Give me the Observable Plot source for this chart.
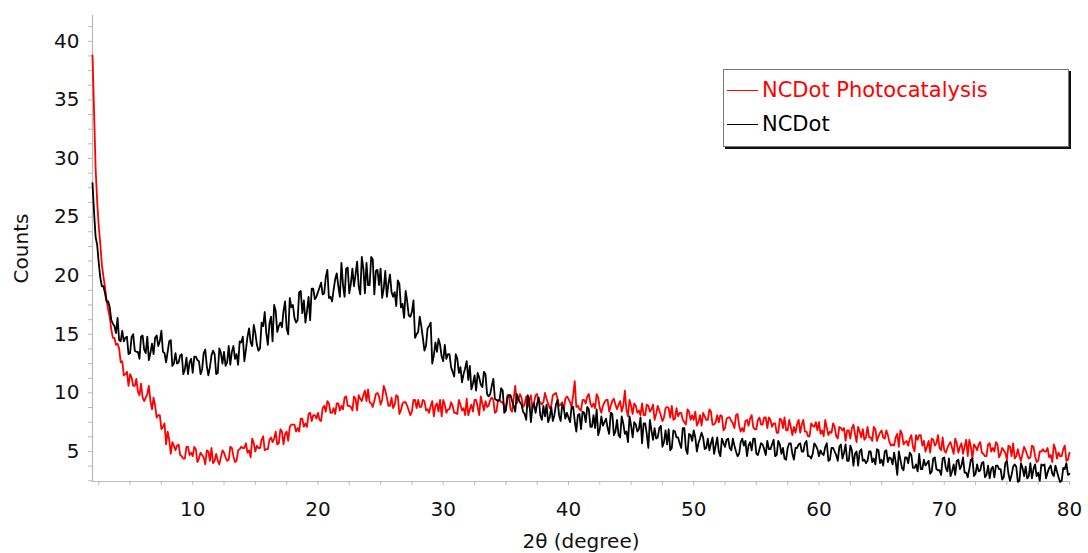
<!DOCTYPE html>
<html>
<head>
<meta charset="utf-8">
<script src="https://cdn.jsdelivr.net/npm/d3@7"></script>
<script src="https://cdn.jsdelivr.net/npm/@observablehq/plot@0.6"></script>
<style>
  html, body { margin: 0; padding: 0; background: #fff; }
  #wrap { position: relative; width: 1088px; height: 553px; font-family: "DejaVu Sans", Verdana, sans-serif; }
  #legend { position: absolute; left: 723px; top: 69px; width: 346px; height: 78px; border: 1px solid #777; background: #fff; box-shadow: 2px 2px 0 #111; box-sizing: border-box; font-size: 21px; }
  .row { position: absolute; left: 3px; display: flex; align-items: center; white-space: nowrap; }
  .sw { width: 31px; height: 0; border-top: 1px solid; margin-right: 4px; }
</style>
</head>
<body>
<div id="wrap"></div>
<script>
// ---- data ----
const seriesNames = ["NCDot Photocatalysis", "NCDot"];
const seriesColors = ["#ff0000", "#000000"];
// readings on a 0.25° grid starting at 2°, and in-between readings at 2.125° + 0.25°·k
const angleStart = 2, angleStep = 0.25, halfStep = 0.125;

const countsPhotocatalysis = [
  38.8, 29.1, 24.2, 20.9, 19.0, 17.1, 15.4, 14.7,
  14.2, 12.6, 11.5, 11.8, 11.6, 10.6, 11.2, 9.8,
  9.6, 9.6, 10.6, 8.6, 8.9, 8.1, 6.9, 7.4,
  6.7, 4.8, 5.5, 5.5, 4.7, 4.4, 5.4, 4.7,
  4.6, 5.2, 4.4, 4.7, 3.9, 5.0, 5.3, 4.2,
  4.2, 4.5, 4.9, 4.2, 5.4, 4.6, 4.2, 5.2,
  5.3, 5.7, 5.1, 6.1, 5.0, 5.3, 6.0, 5.1,
  5.2, 6.2, 6.1, 5.6, 6.9, 5.6, 6.7, 7.1,
  7.3, 6.7, 6.7, 7.8, 7.4, 8.2, 7.6, 8.1,
  8.3, 7.6, 8.9, 9.3, 8.3, 8.7, 9.1, 8.5,
  8.6, 9.7, 8.9, 8.5, 9.5, 9.8, 9.3, 10.2,
  10.3, 9.1, 9.3, 10.0, 9.0, 10.6, 9.6, 8.9,
  8.7, 9.8, 8.2, 9.1, 9.2, 8.5, 8.4, 9.4,
  9.4, 8.8, 9.3, 8.6, 8.9, 8.0, 9.1, 9.4,
  9.4, 8.3, 8.6, 8.9, 8.3, 9.4, 8.5, 8.1,
  8.1, 9.0, 9.4, 8.8, 9.7, 8.5, 8.8, 9.4,
  9.4, 8.4, 9.4, 9.2, 8.6, 9.8, 8.4, 10.6,
  9.4, 9.6, 9.0, 8.8, 9.8, 9.2, 9.9, 9.2,
  9.2, 9.5, 8.7, 9.8, 10.0, 8.9, 9.2, 9.5,
  9.5, 8.8, 11.0, 8.9, 8.5, 9.4, 9.7, 9.1,
  9.1, 9.9, 8.7, 8.9, 9.4, 8.4, 9.3, 9.0,
  9.0, 8.4, 10.2, 8.0, 8.9, 9.1, 8.3, 8.1,
  8.1, 9.0, 8.4, 9.0, 8.2, 8.5, 7.6, 8.7,
  8.7, 8.9, 7.8, 8.0, 8.3, 7.5, 8.6, 7.7,
  7.7, 7.2, 8.1, 8.3, 7.7, 8.6, 7.3, 7.5,
  7.5, 8.0, 7.0, 7.9, 7.6, 7.0, 8.2, 6.7,
  6.7, 7.7, 7.8, 7.1, 6.9, 7.9, 7.3, 7.9,
  7.9, 7.1, 7.4, 6.6, 7.7, 7.9, 6.8, 7.1,
  7.1, 7.3, 6.6, 7.7, 6.7, 6.3, 7.2, 7.5,
  7.5, 6.8, 7.7, 6.4, 6.6, 7.1, 6.1, 7.0,
  7.0, 6.8, 6.1, 7.3, 5.8, 6.7, 6.9, 6.2,
  6.2, 5.9, 6.9, 6.3, 6.8, 6.1, 6.4, 5.5,
  5.5, 6.5, 6.8, 5.6, 5.9, 6.1, 5.4, 6.4,
  6.4, 5.5, 5.0, 5.9, 6.1, 5.5, 6.4, 5.1,
  5.1, 5.3, 5.8, 4.8, 5.7, 5.4, 4.8, 6.0,
  6.0, 4.4, 5.4, 5.6, 4.9, 4.6, 5.6, 5.0,
  5.0, 5.6, 4.8, 5.1, 4.3, 5.4, 5.7, 4.6,
  4.6, 4.8, 5.1, 4.4, 5.5, 4.6, 4.2, 5.0,
  5.0, 5.3, 4.7, 5.6, 4.4, 4.6, 5.2, 4.2,
  4.9
];
const countsPhotocatalysisMid = [
  34.0, 26.3, 22.7, 19.9, 17.9, 16.5, 14.7, 14.1,
  13.8, 12.7, 11.6, 10.6, 11.3, 10.6, 10.1, 10.8,
  9.3, 9.9, 9.3, 9.6, 7.9, 8.1, 7.1, 5.6,
  6.0, 5.8, 5.1, 5.6, 4.6, 4.4, 5.4, 4.9,
  5.4, 4.1, 4.9, 4.5, 5.1, 4.2, 4.0, 4.8,
  3.9, 5.1, 4.5, 4.3, 5.3, 4.1, 5.1, 5.4,
  5.3, 4.9, 4.5, 5.7, 5.5, 5.3, 6.3, 5.2,
  6.0, 5.8, 6.7, 5.7, 6.7, 6.5, 5.9, 7.3,
  7.3, 7.0, 7.8, 7.1, 7.1, 8.3, 8.1, 7.8,
  7.7, 8.7, 8.4, 9.1, 8.3, 8.2, 9.1, 8.9,
  9.6, 8.9, 8.8, 9.7, 8.5, 9.5, 9.8, 9.3,
  9.2, 8.8, 9.9, 9.7, 9.4, 10.2, 8.9, 9.6,
  9.0, 9.7, 8.5, 9.2, 8.9, 8.1, 9.4, 8.7,
  8.8, 9.4, 8.5, 8.3, 9.3, 8.9, 8.4, 8.0,
  9.0, 8.6, 9.2, 8.3, 8.2, 9.0, 8.7, 9.5,
  8.6, 8.4, 9.4, 8.1, 9.1, 9.3, 8.9, 9.6,
  8.3, 9.4, 9.2, 8.9, 9.8, 8.6, 9.5, 9.1,
  9.9, 8.8, 9.7, 9.4, 8.6, 9.8, 9.2, 9.0,
  10.0, 9.1, 8.9, 9.9, 9.5, 9.0, 8.6, 9.7,
  9.2, 9.8, 8.8, 8.6, 9.4, 9.1, 9.9, 8.8,
  8.7, 9.6, 8.3, 9.2, 9.4, 8.9, 9.5, 8.6,
  9.3, 8.9, 8.6, 9.4, 8.2, 8.9, 8.5, 9.1,
  8.1, 8.9, 8.6, 7.7, 8.9, 8.1, 7.9, 8.8,
  7.9, 7.7, 8.7, 8.3, 7.7, 7.3, 8.4, 8.1,
  8.4, 7.5, 7.2, 8.0, 7.7, 8.4, 7.3, 8.1,
  8.1, 6.8, 7.8, 7.9, 7.4, 8.1, 7.2, 7.0,
  7.6, 7.2, 8.1, 6.9, 7.7, 7.3, 7.9, 7.0,
  7.7, 7.4, 6.6, 7.8, 7.0, 6.8, 7.7, 6.4,
  6.6, 7.7, 7.3, 6.7, 6.3, 7.4, 7.1, 6.8,
  6.5, 6.3, 7.0, 6.7, 7.4, 6.3, 7.1, 6.8,
  5.9, 6.8, 7.0, 6.5, 7.1, 6.2, 6.0, 7.1,
  6.2, 7.1, 5.9, 6.6, 6.2, 6.8, 5.8, 5.6,
  6.2, 5.4, 6.5, 5.8, 5.5, 6.4, 5.0, 6.0,
  6.4, 5.9, 5.4, 4.9, 6.0, 5.7, 5.3, 6.2,
  4.9, 5.6, 5.3, 6.1, 4.9, 5.7, 5.4, 4.6,
  5.4, 5.6, 5.1, 5.8, 4.8, 4.6, 5.7, 5.3,
  5.8, 4.5, 5.3, 4.9, 5.5, 4.6, 4.4, 5.2,
  4.2, 5.4, 4.7, 4.5, 5.4, 4.1, 5.0, 5.2,
  5.0, 4.5, 4.1, 5.2, 4.9, 4.6, 5.5, 4.3
];

const countsNCDot = [
  27.9, 23.3, 21.1, 19.1, 18.5, 17.8, 16.2, 15.7,
  16.4, 14.4, 14.4, 14.8, 13.4, 15.0, 13.5, 12.9,
  14.9, 13.4, 12.8, 14.2, 14.7, 14.0, 15.3, 13.4,
  13.5, 14.5, 12.5, 12.5, 13.2, 11.6, 13.0, 12.6,
  11.7, 13.1, 12.7, 12.0, 13.7, 11.5, 13.2, 13.3,
  11.7, 13.4, 13.5, 12.6, 12.4, 14.0, 13.3, 14.4,
  14.8, 13.7, 15.5, 14.0, 15.1, 13.6, 16.0, 16.9,
  14.1, 16.5, 17.5, 15.2, 16.0, 17.0, 15.5, 18.1,
  17.5, 16.0, 18.6, 16.8, 16.0, 18.2, 18.9, 18.0,
  18.6, 19.4, 18.5, 20.5, 18.2, 18.8, 20.2, 18.2,
  19.2, 20.6, 18.5, 20.6, 20.1, 19.1, 21.6, 18.5,
  19.2, 21.6, 18.4, 20.5, 20.6, 18.9, 18.2, 20.1,
  18.2, 17.4, 19.3, 17.6, 18.7, 16.6, 16.9, 14.7,
  15.2, 15.7, 13.6, 15.5, 16.0, 13.2, 13.5, 14.1,
  12.7, 12.9, 13.3, 11.8, 13.3, 11.7, 10.9, 12.1,
  11.1, 10.3, 11.5, 11.7, 10.7, 11.8, 9.9, 9.9,
  11.2, 9.4, 9.4, 10.2, 8.5, 9.8, 9.3, 8.4,
  9.5, 9.0, 8.2, 9.8, 7.5, 9.1, 9.1, 8.1,
  8.9, 9.0, 7.9, 7.6, 9.0, 8.1, 9.0, 7.8,
  7.9, 8.8, 7.6, 8.1, 6.9, 8.3, 8.8, 7.1,
  8.1, 8.6, 6.9, 7.2, 7.8, 6.5, 8.2, 6.7,
  6.4, 8.0, 6.5, 5.8, 7.2, 7.5, 6.7, 7.9,
  7.4, 6.5, 7.7, 6.0, 6.1, 7.0, 5.4, 6.8,
  6.9, 5.3, 6.7, 6.2, 5.3, 7.0, 4.8, 6.4,
  6.8, 5.0, 6.1, 6.2, 5.3, 5.1, 6.2, 5.5,
  5.0, 6.1, 5.4, 6.1, 5.1, 5.5, 4.6, 5.8,
  5.5, 4.6, 5.8, 6.1, 4.8, 5.2, 5.6, 4.7,
  5.2, 5.6, 4.6, 5.9, 4.8, 4.4, 5.3, 5.7,
  4.3, 5.3, 5.7, 5.0, 5.9, 4.6, 4.8, 5.5,
  4.6, 4.8, 5.4, 4.2, 5.3, 5.0, 4.2, 5.6,
  4.9, 4.2, 5.5, 3.8, 5.0, 5.0, 4.2, 4.0,
  5.0, 4.1, 3.9, 5.1, 4.3, 5.0, 4.1, 4.4,
  4.9, 3.0, 4.3, 3.4, 4.5, 4.9, 3.6, 3.9,
  4.8, 3.5, 3.8, 4.2, 3.3, 4.5, 3.4, 3.0,
  4.5, 3.3, 2.9, 3.9, 4.2, 3.5, 4.5, 3.2,
  3.5, 4.4, 3.1, 3.3, 4.0, 2.8, 3.8, 3.5,
  2.8, 3.8, 3.5, 2.8, 4.2, 2.5, 3.7, 3.7,
  2.5, 3.6, 3.7, 2.9, 2.7, 3.9, 3.2, 3.9,
  3.9, 3.2, 3.8, 2.9, 3.3, 2.4, 3.6, 4.0,
  3.1
];
const countsNCDotMid = [
  25.4, 22.6, 19.8, 19.1, 17.8, 17.3, 15.9, 15.1,
  14.5, 15.3, 14.7, 13.3, 14.8, 13.6, 13.5, 14.8,
  13.7, 14.8, 13.4, 13.3, 14.9, 14.4, 13.5, 12.6,
  14.4, 12.3, 13.4, 12.6, 13.3, 12.0, 11.6, 12.9,
  13.1, 12.8, 11.6, 13.4, 12.3, 12.2, 13.6, 11.6,
  13.8, 12.5, 12.3, 14.0, 13.5, 12.9, 12.4, 14.3,
  12.7, 14.8, 14.3, 15.8, 14.1, 13.8, 15.7, 15.1,
  15.9, 14.4, 17.0, 15.7, 15.6, 17.8, 15.0, 17.3,
  16.4, 16.2, 18.7, 17.9, 17.0, 16.2, 18.9, 18.2,
  19.0, 18.4, 19.9, 18.1, 17.8, 19.7, 19.1, 21.1,
  18.2, 20.7, 19.3, 19.1, 21.2, 18.4, 20.6, 21.1,
  19.2, 21.4, 20.4, 19.2, 18.1, 20.4, 19.3, 18.6,
  18.6, 19.6, 17.3, 16.4, 17.8, 16.5, 17.9, 15.0,
  16.5, 14.7, 14.0, 15.7, 12.5, 14.3, 14.6, 13.1,
  14.1, 13.3, 12.2, 11.4, 12.9, 12.2, 11.6, 12.7,
  12.3, 10.8, 10.2, 11.3, 10.5, 11.6, 9.7, 10.6,
  9.5, 9.3, 10.4, 8.3, 9.6, 9.8, 8.9, 9.9,
  9.2, 8.4, 7.7, 9.3, 8.8, 8.3, 9.6, 7.7,
  8.0, 7.5, 8.8, 8.1, 9.4, 7.6, 8.7, 8.3,
  7.5, 8.8, 6.7, 8.2, 8.4, 7.5, 8.6, 7.1,
  7.0, 6.4, 8.0, 7.5, 7.0, 8.3, 6.4, 7.7,
  6.2, 7.4, 6.7, 8.0, 6.2, 7.3, 6.9, 5.7,
  7.4, 5.3, 6.8, 7.0, 6.2, 7.2, 5.8, 5.6,
  5.1, 6.8, 6.2, 5.7, 7.0, 5.2, 6.5, 5.9,
  6.2, 5.7, 6.6, 5.2, 6.1, 5.7, 4.8, 6.2,
  4.6, 5.7, 6.0, 5.3, 6.1, 5.0, 4.8, 6.1,
  5.9, 5.5, 5.1, 6.1, 4.7, 5.7, 5.2, 5.9,
  5.2, 6.0, 4.7, 5.6, 5.3, 4.3, 5.7, 4.8,
  5.3, 5.6, 5.0, 5.7, 4.6, 4.4, 5.7, 5.2,
  5.1, 4.7, 5.7, 4.3, 5.3, 4.7, 5.4, 4.4,
  5.6, 4.2, 5.1, 4.8, 3.8, 5.2, 4.3, 4.2,
  5.0, 4.4, 5.2, 4.0, 3.8, 5.1, 4.5, 3.9,
  4.1, 5.0, 3.6, 4.5, 4.0, 4.7, 3.6, 3.3,
  3.5, 4.3, 4.0, 3.1, 4.4, 3.5, 3.4, 4.4,
  3.6, 4.4, 3.3, 3.0, 4.3, 3.8, 3.2, 2.8,
  4.3, 2.9, 3.9, 3.4, 4.1, 3.0, 2.7, 3.7,
  3.8, 3.5, 2.6, 4.0, 3.1, 3.0, 3.9, 2.4,
  4.0, 2.9, 2.7, 4.0, 3.5, 2.9, 2.5, 3.8,
  2.7, 3.6, 3.1, 3.8, 2.8, 2.5, 3.5, 3.0
];

const xTicks = [10, 20, 30, 40, 50, 60, 70, 80];
const yTicks = [5, 10, 15, 20, 25, 30, 35, 40];
const xDomain = [2, 80];
const yDomain = [2.44, 42.2];
const xLabel = "2θ (degree)";
const yLabel = "Counts";

// ---- build table (interleave grid and in-between readings) ----
const rows = [];
[[countsPhotocatalysis, countsPhotocatalysisMid], [countsNCDot, countsNCDotMid]].forEach(([main, mid], si) => {
  const pts = [];
  main.forEach((v, i) => pts.push({series: seriesNames[si], angle: angleStart + i * angleStep, counts: v}));
  mid.forEach((v, i) => pts.push({series: seriesNames[si], angle: angleStart + halfStep + i * angleStep, counts: v}));
  pts.sort((a, b) => a.angle - b.angle);
  rows.push(...pts);
});
const xMinor = d3.range(2.5, 80.01, 2.5);
const yMinor = d3.range(2.5, 42, 1.25);

const axisGray = "#bbbbbb";
const chart = Plot.plot({
  width: 1088,
  height: 553,
  marginLeft: 92,
  marginRight: 19,
  marginTop: 15,
  marginBottom: 72,
  style: {fontFamily: "DejaVu Sans, Verdana, sans-serif", fontSize: "20px", color: "#111", background: "#fff"},
  x: {domain: xDomain, label: null},
  y: {domain: yDomain, label: null},
  color: {domain: seriesNames, range: seriesColors},
  marks: [
    Plot.ruleX([xDomain[0]], {stroke: axisGray, strokeWidth: 1.2}),
    Plot.ruleY([yDomain[0]], {stroke: axisGray, strokeWidth: 1.2}),
    Plot.axisX(xMinor, {tickSize: 4, stroke: axisGray, text: null, tickPadding: 0}),
    Plot.axisY(yMinor, {tickSize: 4, stroke: axisGray, text: null, tickPadding: 0}),
    Plot.axisX(xTicks, {tickSize: 0, tickPadding: 20, fontSize: 20, label: xLabel, labelAnchor: "center", labelOffset: 66, labelArrow: "none"}),
    Plot.axisY(yTicks, {tickSize: 0, tickPadding: 13, fontSize: 20, label: yLabel, labelAnchor: "center", labelOffset: 79, labelArrow: "none"}),
    Plot.line(rows, {x: "angle", y: "counts", stroke: "series", z: "series", strokeWidth: 1.8, curve: "linear"})
  ]
});

const wrap = document.getElementById("wrap");
wrap.appendChild(chart);

const legend = document.createElement("div");
legend.id = "legend";
seriesNames.forEach((name, i) => {
  const r = document.createElement("div");
  r.className = "row";
  r.style.top = (i === 0 ? 8 : 42) + "px";
  const sw = document.createElement("span");
  sw.className = "sw";
  sw.style.borderTopColor = seriesColors[i];
  const t = document.createElement("span");
  t.textContent = name;
  t.style.color = seriesColors[i];
  r.appendChild(sw); r.appendChild(t);
  legend.appendChild(r);
});
wrap.appendChild(legend);
</script>
</body>
</html>
